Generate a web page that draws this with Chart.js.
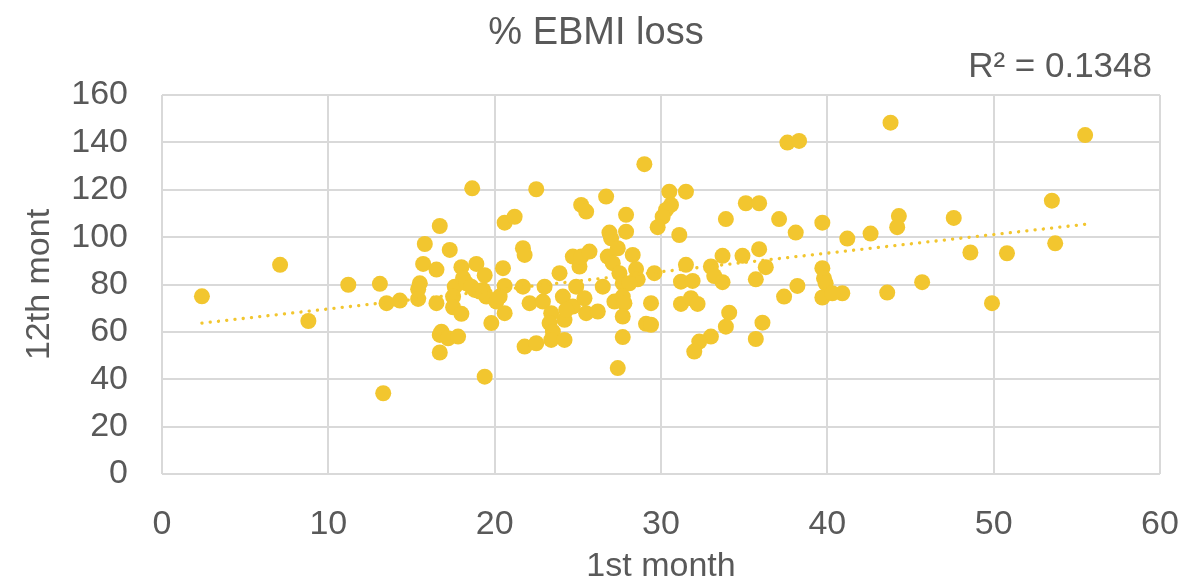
<!DOCTYPE html>
<html>
<head>
<meta charset="utf-8">
<script src="https://cdn.jsdelivr.net/npm/chart.js@4"></script>
<style>
  html, body { margin: 0; padding: 0; background: #fff; }
  #wrap { width: 1187px; height: 586px; position: relative; }
</style>
</head>
<body>
<div id="wrap"><canvas id="chart"></canvas></div>
<script>
// 1st month % EBMI loss (x) vs 12th month (y)
const xValues = [
    2.4, 7.1, 8.8, 11.2, 13.1, 13.5, 14.3, 13.3, 16.7, 15.8,
    17.3, 15.7, 16.5, 18.0, 18.9, 19.4, 15.5, 15.4, 15.4, 16.5,
    17.6, 17.5, 17.5, 18.0, 18.1, 18.3, 18.8, 19.3, 19.5, 16.8,
    16.7, 17.2, 17.8, 16.7, 19.4, 19.8, 18.65, 22.5, 20.6, 21.2,
    21.7, 21.8, 20.5, 20.6, 18.6, 19.1, 20.1, 20.6, 20.3, 21.7,
    22.1, 21.8, 22.5, 23.0, 22.9, 23.4, 23.3, 23.5, 23.4, 24.2,
    23.9, 24.1, 24.2, 24.7, 25.1, 25.2, 25.7, 24.9, 24.7, 25.4,
    25.5, 26.2, 25.2, 25.5, 26.7, 26.9, 27.0, 26.8, 27.1, 26.5,
    27.2, 27.7, 27.4, 24.3, 29.0, 27.9, 27.9, 30.5, 31.5, 30.6,
    30.3, 30.1, 29.8, 31.1, 27.4, 28.3, 27.5, 28.5, 28.6, 27.7,
    28.1, 29.6, 27.7, 27.8, 27.7, 29.4, 29.1, 29.4, 31.5, 31.2,
    31.9, 31.2, 31.8, 32.2, 33.0, 32.3, 32.0, 33.0, 33.9, 35.1,
    35.9, 37.1, 38.1, 39.7, 33.7, 34.9, 35.9, 36.3, 33.2, 33.7,
    35.7, 39.7, 39.8, 39.9, 38.2, 37.4, 39.7, 34.1, 33.9, 36.1,
    35.7, 43.8, 55.5, 37.6, 38.3, 44.3, 44.2, 42.6, 41.2, 47.6,
    53.5, 53.7, 48.6, 50.8, 40.9, 40.3, 43.6, 45.7, 49.9
];
const yValues = [
    75, 88.3, 64.6, 79.9, 80.3, 72.1, 73.2, 34.1, 104.7, 97.1,
    94.6, 88.7, 86.3, 87.3, 88.7, 83.9, 80.5, 78, 73.9, 72.1,
    79.1, 74.9, 70.4, 67.6, 82.7, 80.5, 77.7, 77.7, 74.9, 60.1,
    58.7, 57.3, 58, 51.3, 41.1, 63.7, 120.6, 120.2, 106.1, 108.6,
    95.3, 92.5, 86.9, 79.4, 79.1, 77, 72.8, 67.9, 74.9, 79.1,
    72.1, 53.8, 55.2, 79.1, 72.8, 67.9, 63.7, 60.1, 56.6, 56.6,
    84.8, 74.9, 65.1, 91.8, 87.6, 91.8, 93.9, 79.1, 70.7, 74.2,
    67.9, 68.6, 113.6, 110.8, 117.1, 101.9, 99.5, 91.8, 89, 79.1,
    72.8, 57.8, 44.7, 69.3, 130.8, 109.4, 102.3, 119.2, 119.2, 113.6,
    111.5, 108.6, 104.2, 100.9, 95.3, 92.5, 84.8, 86.5, 82.2, 80.5,
    80.5, 84.8, 74.9, 72.1, 66.5, 72.1, 63.4, 63, 88.3, 81.2,
    81.5, 71.8, 74.2, 71.8, 58, 55.9, 51.7, 87.6, 107.6, 114.3,
    114.3, 107.6, 101.9, 106.1, 92.1, 92.1, 94.9, 87.3, 83.6, 81,
    82.2, 86.9, 82.6, 80.5, 79.4, 74.9, 74.5, 68.1, 62.2, 63.9,
    57, 148.3, 143.1, 139.9, 140.6, 108.9, 104.2, 101.5, 99.4, 108.1,
    115.4, 97.4, 93.5, 93.2, 76.3, 76.3, 76.6, 81, 72.1
];

// linear trendline ends, as drawn in the picture
const trendX = [2.4, 55.5];
const trendY = [63.7, 105.4];

const xTicks = [0, 10, 20, 30, 40, 50, 60];
const yTicks = [0, 20, 40, 60, 80, 100, 120, 140, 160];

const titleText = '% EBMI loss';
const rSquaredText = 'R² = 0.1348';

const gold = '#F2C62F';
const textColor = '#595959';
const gridColor = '#d9d9d9';
const fontFamily = '"Liberation Sans", Arial, sans-serif';

const points = xValues.map((x, i) => ({ x: x, y: yValues[i] }));
const trendPoints = trendX.map((x, i) => ({ x: x, y: trendY[i] }));

// title + R² label drawn at fixed spots
const headerText = {
    id: 'headerText',
    afterDraw(chart) {
        const ctx = chart.ctx;
        ctx.save();
        ctx.fillStyle = textColor;
        ctx.textBaseline = 'middle';
        ctx.font = '38px ' + fontFamily;
        ctx.textAlign = 'center';
        ctx.fillText(titleText, 596, 34);
        ctx.font = '35px ' + fontFamily;
        ctx.textAlign = 'right';
        ctx.fillText(rSquaredText, 1152, 67);
        ctx.restore();
    }
};

new Chart(document.getElementById('chart'), {
    type: 'scatter',
    data: {
        datasets: [{
            label: 'Trend',
            type: 'line',
            data: trendPoints,
            borderColor: gold,
            borderWidth: 3.3,
            borderDash: [0.1, 8.2],
            borderCapStyle: 'round',
            pointRadius: 0,
            fill: false,
            order: 0
        }, {
            label: '12th month',
            data: points,
            backgroundColor: gold,
            borderColor: gold,
            borderWidth: 0,
            pointRadius: 8,
            pointHoverRadius: 8,
            order: 1
        }]
    },
    options: {
        responsive: true,
        maintainAspectRatio: false,
        animation: false,
        layout: {
            padding: { top: 95, right: 27, bottom: 0, left: 0 }
        },
        plugins: {
            legend: { display: false },
            tooltip: { enabled: false }
        },
        scales: {
            x: {
                type: 'linear',
                min: 0,
                max: 60,
                afterBuildTicks: (scale) => {
                    scale.ticks = xTicks.map(v => ({ value: v }));
                },
                afterFit: (scale) => {
                    scale.height = 112;
                    // label overhang fits inside the layout padding
                    scale.paddingLeft = 0;
                    scale.paddingRight = 0;
                },
                grid: { color: gridColor, lineWidth: 2, drawTicks: false },
                border: { display: false },
                ticks: {
                    color: textColor,
                    padding: 30,
                    font: { family: fontFamily, size: 34 }
                },
                title: {
                    display: true,
                    text: '1st month',
                    color: textColor,
                    padding: { top: 0, bottom: 2 },
                    font: { family: fontFamily, size: 34, lineHeight: 1 }
                }
            },
            y: {
                type: 'linear',
                min: 0,
                max: 160,
                afterBuildTicks: (scale) => {
                    scale.ticks = yTicks.map(v => ({ value: v }));
                },
                afterFit: (scale) => { scale.width = 162; },
                grid: { color: gridColor, lineWidth: 2, drawTicks: false },
                border: { display: false },
                ticks: {
                    color: textColor,
                    padding: 34,
                    font: { family: fontFamily, size: 34 }
                },
                title: {
                    display: true,
                    text: '12th mont',
                    color: textColor,
                    padding: { top: 23, bottom: 0 },
                    font: { family: fontFamily, size: 34, lineHeight: 1 }
                }
            }
        }
    },
    plugins: [headerText]
});
</script>
</body>
</html>
